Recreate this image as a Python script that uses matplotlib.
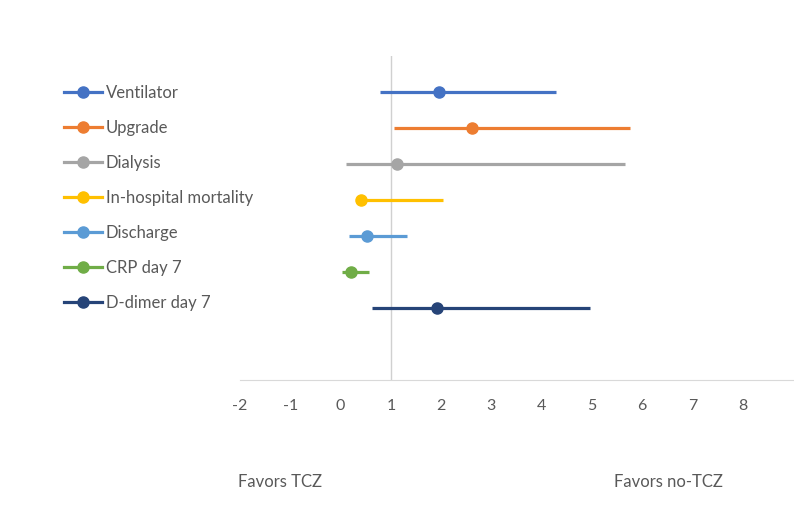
import matplotlib.pyplot as plt
import numpy as np

plt.rcParams['font.family'] = ['Lato', 'DejaVu Sans']

# Data
outcomes = ["Ventilator", "Upgrade", "Dialysis", "In-hospital mortality",
            "Discharge", "CRP day 7", "D-dimer day 7"]
estimate = [1.95, 2.61, 1.12, 0.41, 0.53, 0.20, 1.91]
lower = [0.79, 1.07, 0.11, 0.36, 0.17, 0.03, 0.62]
upper = [4.28, 5.76, 5.66, 2.03, 1.32, 0.57, 4.96]
colors = ["#4472C4", "#ED7D31", "#A5A5A5", "#FFC000",
          "#5B9BD5", "#70AD47", "#264478"]
xticks = [-2, -1, 0, 1, 2, 3, 4, 5, 6, 7, 8]

fig = plt.figure(figsize=(7.94, 5.20), dpi=100)
# axes spans x 240..793 px, y 56..380 px
ax = fig.add_axes([240 / 794, 1 - 380 / 520, 553 / 794, 324 / 520])

ypos = np.arange(len(outcomes) + 1, 1, -1)  # 8 .. 2

ax.axvline(1, color="#d0d0d0", lw=1, zorder=1)

handles = []
for i, name in enumerate(outcomes):
    ax.plot([lower[i], upper[i]], [ypos[i], ypos[i]], color=colors[i],
            lw=2.3, solid_capstyle="butt", zorder=2)
    ax.plot(estimate[i], ypos[i], "o", color=colors[i], ms=8, zorder=3)
    h, = ax.plot([], [], color=colors[i], lw=2.3, marker="o", ms=8, label=name)
    handles.append(h)

ax.set_xlim(-2, 9)
ax.set_ylim(0, 9)
ax.set_xticks(xticks)
ax.set_xticklabels([str(t) for t in xticks])
ax.set_yticks([])
for s in ["top", "right", "left"]:
    ax.spines[s].set_visible(False)
ax.spines["bottom"].set_color("#d9d9d9")
ax.tick_params(axis="x", length=0, pad=14, labelsize=11.5, colors="#595959")

leg = fig.legend(handles=handles, loc="upper left",
                 bbox_to_anchor=(49 / 794, 1 - 70 / 520),
                 frameon=False, fontsize=12, handlelength=2.3,
                 handletextpad=0.2, labelspacing=1.14, labelcolor="#595959")

fig.text(280 / 794, 1 - 482 / 520, "Favors TCZ", ha="center", va="center",
         fontsize=12, color="#595959")
fig.text(668 / 794, 1 - 482 / 520, "Favors no-TCZ", ha="center", va="center",
         fontsize=12, color="#595959")

fig.savefig("out.png", dpi=100)
